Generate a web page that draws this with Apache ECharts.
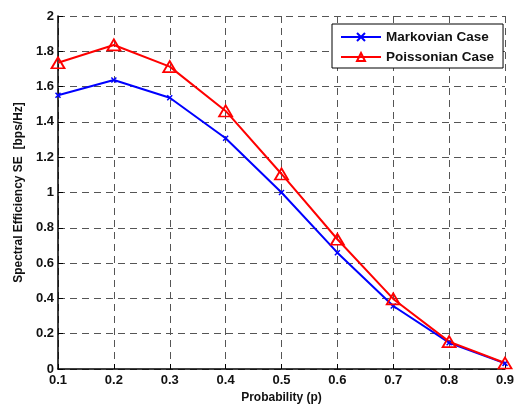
<!DOCTYPE html>
<html>
<head>
<meta charset="utf-8">
<script src="https://cdn.jsdelivr.net/npm/echarts@6/dist/echarts.min.js"></script>
<style>html,body{margin:0;padding:0;background:#fff;}#c{width:519px;height:405px;}</style>
</head>
<body>
<div id="c"></div>
<script>
var categories = ['0.1','0.2','0.3','0.4','0.5','0.6','0.7','0.8','0.9'];
var markovian = [1.551, 1.637, 1.537, 1.307, 1.0, 0.659, 0.357, 0.149, 0.032];
var poissonian = [1.735, 1.836, 1.713, 1.462, 1.105, 0.735, 0.397, 0.155, 0.034];
var yTicks = ['0','0.2','0.4','0.6','0.8','1','1.2','1.4','1.6','1.8','2'];

var FONT = '"Liberation Sans", Arial, sans-serif';
var chart = echarts.init(document.getElementById('c'), null, {renderer: 'canvas'});
chart.setOption({
  animation: false,
  backgroundColor: '#fff',
  grid: {left: 58, right: 14, top: 16, bottom: 36, containLabel: false, outerBoundsMode: 'none'},
  legend: {
    left: 332, top: 24,
    orient: 'vertical',
    backgroundColor: '#fff',
    borderColor: '#000', borderWidth: 1,
    padding: [6, 9, 4, 8],
    itemWidth: 40, itemHeight: 10, itemGap: 6,
    textStyle: {fontFamily: FONT, fontWeight: 'bold', fontSize: 13.5, color: '#111'},
    data: ['Markovian Case', 'Poissonian Case']
  },
  xAxis: {
    type: 'category',
    data: categories,
    boundaryGap: false,
    name: 'Probability (p)',
    nameLocation: 'middle',
    nameGap: 23,
    nameTextStyle: {fontFamily: FONT, fontWeight: 'bold', fontSize: 12, color: '#111'},
    axisLine: {lineStyle: {color: '#000', width: 1.5}},
    axisTick: {inside: true, length: 5, alignWithLabel: true, lineStyle: {color: '#000'}},
    axisLabel: {fontFamily: FONT, fontWeight: 'bold', fontSize: 13, color: '#111', margin: 5},
    splitLine: {show: true, lineStyle: {color: '#555', type: [7, 5], width: 1}}
  },
  yAxis: {
    type: 'value',
    min: 0, max: 2, interval: 0.2,
    name: 'Spectral Efficiency SE  [bps/Hz]',
    nameLocation: 'middle',
    nameGap: 30,
    nameTextStyle: {fontFamily: FONT, fontWeight: 'bold', fontSize: 12, color: '#111'},
    axisLine: {show: true, lineStyle: {color: '#000', width: 1.5}},
    axisTick: {show: true, inside: true, length: 5, lineStyle: {color: '#000'}},
    axisLabel: {fontFamily: FONT, fontWeight: 'bold', fontSize: 13, color: '#111', margin: 4,
      formatter: function (v) { return yTicks[Math.round(v / 0.2)]; }},
    splitLine: {show: true, lineStyle: {color: '#555', type: [7, 5], width: 1}}
  },
  series: [
    {
      name: 'Markovian Case',
      type: 'line',
      data: markovian,
      symbol: 'path://M0,0L4,4M4,0L0,4',
      symbolSize: 5,
      showAllSymbol: true,
      lineStyle: {color: '#0000ff', width: 2},
      itemStyle: {color: '#0000ff', borderColor: '#0000ff', borderWidth: 1.5}
    },
    {
      name: 'Poissonian Case',
      type: 'line',
      data: poissonian,
      symbol: 'triangle',
      symbolSize: [13, 11],
      showAllSymbol: true,
      lineStyle: {color: '#ff0000', width: 2},
      itemStyle: {color: 'rgba(0,0,0,0)', borderColor: '#ff0000', borderWidth: 1.8}
    }
  ]
});
</script>
</body>
</html>
